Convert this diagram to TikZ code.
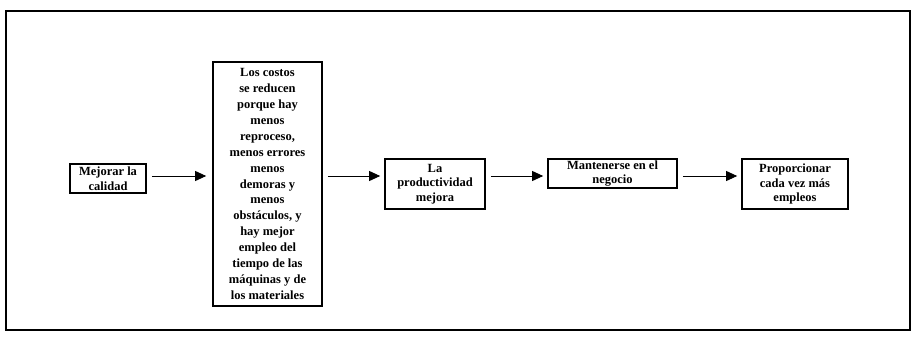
\documentclass[tikz,border=0pt]{standalone}
\usepackage{fontspec}
\setmainfont{Liberation Serif}
\usetikzlibrary{arrows.meta}
\begin{document}
\begin{tikzpicture}[x=1pt,y=-1pt,
  stepbox/.style={draw=black,line width=1.7pt,fill=white,align=center,
    inner sep=0pt,font=\bfseries\fontsize{12.5}{14.5}\selectfont},
  flow/.style={line width=0.9pt,-{Triangle[length=11pt,width=10pt]},
    shorten <=5pt,shorten >=5pt}]
\useasboundingbox (0,0) rectangle (915,338);
% outer frame
\draw[line width=1.8pt] (6,11) rectangle (910,330);
% boxes
\node[stepbox,minimum width=76pt,minimum height=29pt] (b1) at (108,178.5)
  {Mejorar la\\calidad};
\node[stepbox,minimum width=109pt,minimum height=244pt,
  font=\bfseries\fontsize{12.5}{15.9}\selectfont] (b2) at (267.5,184)
  {Los costos\\se reducen\\porque hay\\menos\\reproceso,\\menos errores\\menos\\demoras y\\menos\\obst\'aculos, y\\hay mejor\\empleo del\\tiempo de las\\m\'aquinas y de\\los materiales};
\node[stepbox,minimum width=100pt,minimum height=50pt] (b3) at (435,184)
  {La\\productividad\\mejora};
\node[stepbox,minimum width=129pt,minimum height=29pt] (b4) at (612.5,173.5)
  {Mantenerse en el\\negocio};
\node[stepbox,minimum width=106pt,minimum height=50pt] (b5) at (795,184)
  {Proporcionar\\cada vez m\'as\\empleos};
% connectors
\coordinate (lvl) at (0,176);
\draw[flow,shorten >=6pt] (b1.east |- lvl) -- (b2.west |- lvl);
\draw[flow,shorten >=4pt] (b2.east |- lvl) -- (b3.west |- lvl);
\draw[flow,shorten >=4pt] (b3.east |- lvl) -- (b4.west |- lvl);
\draw[flow,shorten >=4pt] (b4.east |- lvl) -- (b5.west |- lvl);
\end{tikzpicture}
\end{document}
